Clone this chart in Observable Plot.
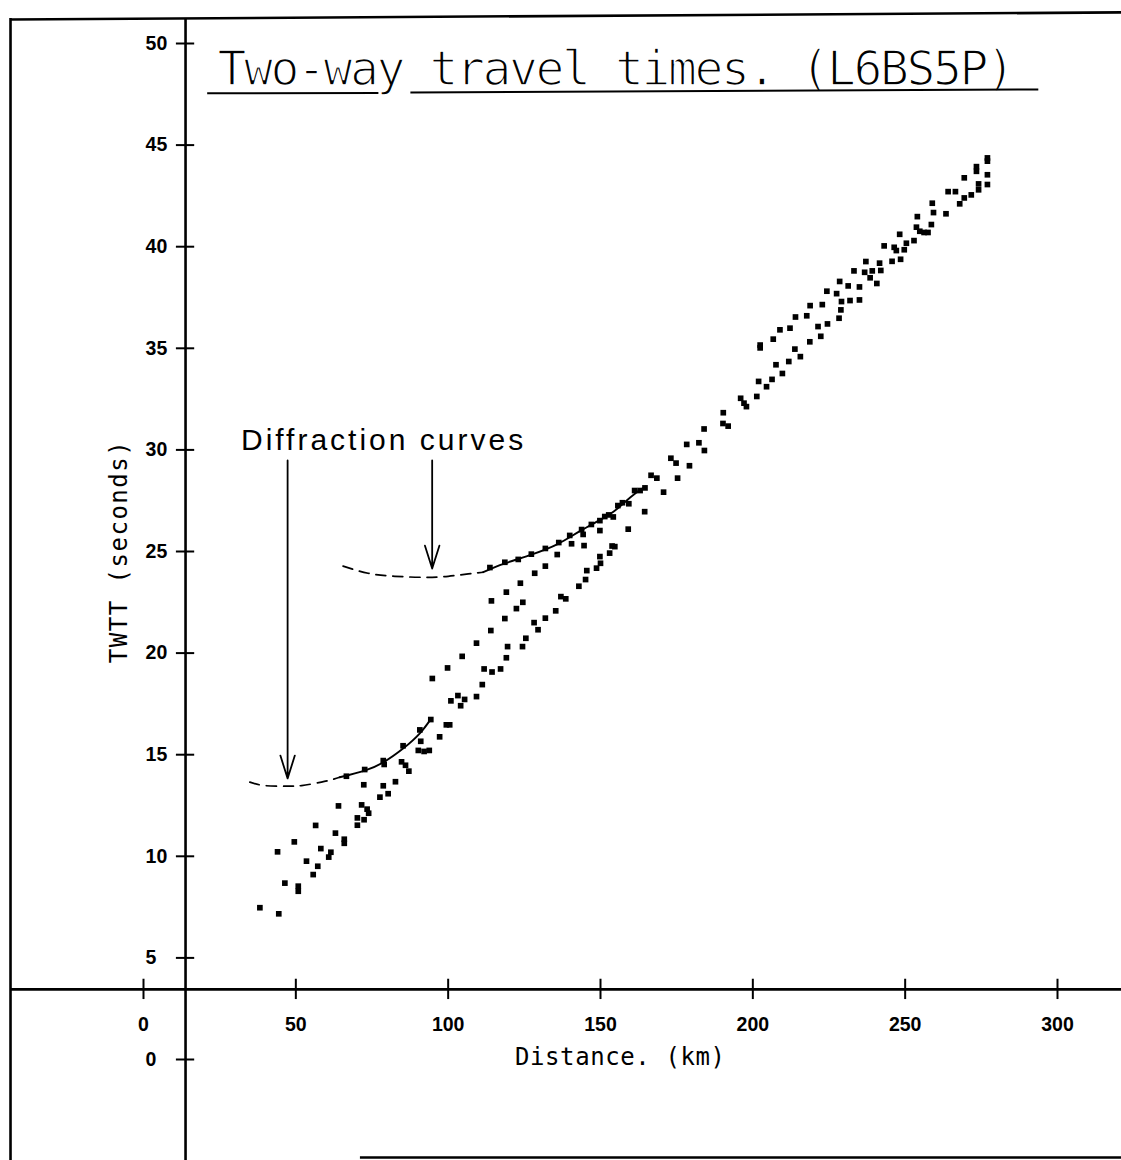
<!DOCTYPE html>
<html>
<head>
<meta charset="utf-8">
<script src="https://cdn.jsdelivr.net/npm/d3@7"></script>
<script src="https://cdn.jsdelivr.net/npm/@observablehq/plot@0.6"></script>
<style>
html, body { margin: 0; padding: 0; background: #fff; }
#chart svg { display: block; }
</style>
</head>
<body>
<div id="chart"></div>
<script>
// ---- Data ----
// Distance (km) of each travel-time pick
const distance = [
  38.2,44.4,44.0,46.4,49.5,50.8,50.8,53.5,55.7,56.5,
  57.2,58.2,60.8,61.5,63.0,64.0,65.9,65.9,66.6,70.2,
  70.2,71.6,72.3,72.4,72.6,73.4,73.9,77.6,78.7,79.0,
  78.7,80.3,82.7,84.7,85.2,86.0,87.1,90.2,90.7,91.0,
  92.1,93.8,94.3,94.8,97.2,99.4,100.5,99.8,100.9,103.2,
  104.1,104.6,105.4,109.3,109.3,111.2,111.8,114.0,114.4,117.2,
  114.2,113.7,118.6,118.6,119.1,119.1,119.5,122.4,123.0,123.7,
  124.5,124.4,125.5,127.3,128.2,128.4,129.5,131.9,131.9,131.9,
  135.3,135.8,136.3,137.0,138.6,139.9,140.5,142.9,145.1,145.5,
  143.8,144.3,144.6,147.0,148.7,149.8,149.8,149.8,150.0,151.4,
  152.7,153.0,153.8,154.2,154.7,155.7,157.2,159.3,159.1,161.2,
  163.0,164.6,164.5,166.6,168.5,170.7,173.1,174.8,175.3,178.3,
  179.2,182.3,184.0,184.1,190.3,190.2,191.9,196.0,197.1,197.9,
  201.3,201.9,202.4,202.4,204.5,206.3,206.7,207.6,208.9,209.7,
  211.8,212.2,213.8,214.0,215.6,217.7,218.7,218.8,221.4,222.3,
  222.8,224.3,224.5,227.5,228.3,228.5,228.9,229.1,231.3,231.9,
  233.2,235.0,235.0,236.7,237.1,238.5,239.2,240.7,241.6,242.0,
  243.1,245.7,246.4,247.1,248.2,248.5,249.7,250.4,252.9,253.7,
  254.0,254.8,256.2,257.5,258.6,258.9,259.3,263.4,264.1,266.5,
  267.9,269.4,269.4,271.7,273.4,273.4,274.1,274.1,277.0,277.0,277.0,277.0
];
// Two-way travel time (s) of each pick
const twtt = [
  7.47,7.17,10.22,8.68,10.71,8.53,8.28,9.76,9.10,11.52,
  9.51,10.38,9.96,10.20,11.14,12.48,10.84,10.64,13.94,11.89,
  11.53,12.53,13.52,11.80,14.27,12.32,12.12,12.91,14.71,14.52,
  13.47,13.08,13.67,14.65,15.44,14.48,14.19,15.21,16.22,15.66,
  15.16,15.21,16.73,18.75,15.88,16.47,16.47,19.27,17.65,17.91,
  17.41,19.84,17.72,20.49,17.86,18.45,19.22,21.11,19.07,19.22,
  22.57,24.21,24.47,21.70,23.00,19.77,20.32,22.19,24.61,23.44,
  22.50,20.32,20.73,24.87,21.50,23.93,21.15,25.15,24.28,21.72,
  22.08,24.85,25.44,22.78,22.67,25.79,25.38,23.29,23.62,24.06,
  26.08,25.84,25.29,26.33,24.18,26.52,26.03,24.75,24.42,26.72,
  26.80,24.92,25.27,26.70,25.24,27.26,27.40,27.35,26.10,28.00,
  28.00,28.13,26.96,28.75,28.61,27.92,29.59,29.35,28.61,30.27,
  29.22,30.35,31.03,29.97,31.83,31.30,31.17,32.54,32.30,32.13,
  32.63,33.37,35.16,35.02,33.11,33.47,35.45,34.19,35.91,33.76,
  34.35,35.99,34.96,36.54,34.59,36.60,35.32,37.10,36.07,35.59,
  37.15,37.81,36.20,37.69,36.48,38.29,36.89,37.30,38.07,37.35,
  38.81,38.02,37.38,38.74,39.27,38.47,38.81,38.19,39.19,38.83,
  40.04,39.28,39.97,39.81,40.61,39.38,39.85,40.17,40.30,40.96,
  41.48,40.76,40.70,40.70,41.09,42.14,41.68,41.62,42.71,42.71,
  42.11,43.39,42.40,42.55,43.94,43.71,43.09,42.80,44.37,44.21,43.54,43.06
];

// Diffraction curves (upper and lower), dashed and solid parts
const upperDashDist = [65.5,73.7,82.5,92.3,100.0,106.6,111.5];
const upperDashTime = [24.28,23.93,23.78,23.73,23.78,23.90,23.98];
const upperSolidDist = [111.5,118.4,127.3,136.1,143.8,152.7,157.4,161.8,164.8];
const upperSolidTime = [23.98,24.40,24.85,25.38,26.05,26.80,27.35,27.90,28.20];
const lowerDashDist = [34.9,39.8,46.9,51.9,58.4,62.3,64.4];
const lowerDashTime = [13.65,13.48,13.45,13.48,13.65,13.79,13.89];
const lowerSolidDist = [64.4,72.6,78.7,85.2,90.7,94.3];
const lowerSolidTime = [13.89,14.22,14.62,15.30,16.05,16.75];

// Axis ticks and texts
const xTicks = [0,50,100,150,200,250,300];
const yTicks = [0,5,10,15,20,25,30,35,40,45,50];
const titleText = "Two-way travel times. (L6BS5P)";
const xLabel = "Distance. (km)";
const yLabel = "TWTT (seconds)";
const noteText = "Diffraction curves";

// ---- Build tables ----
const points = distance.map((d, i) => ({distance: d, twtt: twtt[i]}));
const zip = (xs, ys) => xs.map((d, i) => ({distance: d, twtt: ys[i]}));
const upperDash = zip(upperDashDist, upperDashTime);
const upperSolid = zip(upperSolidDist, upperSolidTime);
const lowerDash = zip(lowerDashDist, lowerDashTime);
const lowerSolid = zip(lowerSolidDist, lowerSolidTime);

// Where the two drawn axes cross (in data units)
const axisDist = 13.8;
const axisTime = 3.45;

const plotterFont = "'DejaVu Sans Mono', 'Liberation Mono', monospace";
const tickFont = "'Liberation Sans', Arial, Helvetica, sans-serif";

const chart = Plot.plot({
  width: 1121,
  height: 1160,
  marginLeft: 10,
  marginRight: 0,
  marginTop: 18,
  marginBottom: 0,
  style: {background: "white", color: "black", overflow: "visible"},
  x: {domain: [0, 300], range: [143, 1057], axis: null},
  y: {domain: [0, 50], range: [1059, 43], axis: null},
  marks: [
    // scanned page border (top, left, partial bottom)
    Plot.link([0], {x1: -43.65, y1: 51.18, x2: 321, y2: 51.53, stroke: "black", strokeWidth: 2.6}),
    Plot.ruleX([-43.65], {stroke: "black", strokeWidth: 2.6}),
    Plot.ruleY([-4.82], {x1: 71.2, x2: 321, stroke: "black", strokeWidth: 2.6}),

    // axes lines
    Plot.ruleX([axisDist], {stroke: "black", strokeWidth: 2.6}),
    Plot.ruleY([axisTime], {stroke: "black", strokeWidth: 2.6}),

    // tick marks crossing the axes
    Plot.ruleY(yTicks, {y: d => d, x1: axisDist - 3, x2: axisDist + 3, stroke: "black", strokeWidth: 2}),
    Plot.ruleX(xTicks, {x: d => d, y1: axisTime - 0.5, y2: axisTime + 0.5, stroke: "black", strokeWidth: 2}),

    // tick labels
    Plot.text(yTicks, {x: axisDist, y: d => d, text: d => String(d), dx: -40, textAnchor: "start",
      fontSize: 19.5, fontWeight: "bold", fontFamily: tickFont, fill: "black"}),
    Plot.text(xTicks, {x: d => d, y: axisTime, text: d => String(d), dy: 35,
      fontSize: 19.5, fontWeight: "bold", fontFamily: tickFont, fill: "black"}),

    // axis titles
    Plot.text([xLabel], {x: 156.5, y: 0.1, text: d => d, fontSize: 24, fontFamily: plotterFont, fill: "black"}),
    Plot.text([yLabel], {x: -7.9, y: 25.0, text: d => d, rotate: -90, fontSize: 24, fontFamily: plotterFont,
      fill: "black"}),

    // title with broken underline
    Plot.text([titleText], {x: 24.3, y: 47.98, text: d => d, textAnchor: "start", lineAnchor: "bottom",
      fontSize: 48, fontFamily: plotterFont, fill: "black"}),
    Plot.link([0], {x1: 20.9, y1: 47.55, x2: 77.1, y2: 47.57, stroke: "black", strokeWidth: 2}),
    Plot.link([0], {x1: 87.6, y1: 47.59, x2: 293.7, y2: 47.74, stroke: "black", strokeWidth: 2}),

    // diffraction curves
    Plot.line(upperDash, {x: "distance", y: "twtt", curve: "natural", stroke: "black",
      strokeWidth: 1.7, strokeDasharray: "10,7"}),
    Plot.line(upperSolid, {x: "distance", y: "twtt", curve: "natural", stroke: "black", strokeWidth: 1.9}),
    Plot.line(lowerDash, {x: "distance", y: "twtt", curve: "natural", stroke: "black",
      strokeWidth: 1.7, strokeDasharray: "10,7"}),
    Plot.line(lowerSolid, {x: "distance", y: "twtt", curve: "natural", stroke: "black", strokeWidth: 1.9}),

    // annotation
    Plot.text([noteText], {x: 78.8, y: 30.46, text: d => d, fontSize: 30, fontFamily: tickFont, fill: "black"}),
    Plot.arrow([0], {x1: 47.3, y1: 29.48, x2: 47.3, y2: 13.83, headLength: 20, headAngle: 35,
      stroke: "black", strokeWidth: 1.8}),
    Plot.arrow([0], {x1: 94.75, y1: 29.48, x2: 94.75, y2: 24.16, headLength: 20, headAngle: 35,
      stroke: "black", strokeWidth: 1.8}),

    // travel-time picks
    Plot.dot(points, {x: "distance", y: "twtt", symbol: "square", r: 3.2, fill: "black", stroke: "none"})
  ]
});

// plotter-style lettering: spacing (select texts by their content)
const svg = d3.select(chart);
const byText = s => svg.selectAll("text").filter(function () { return this.textContent === s; });
byText(titleText).attr("letter-spacing", "-2.4px")
  .attr("stroke", "white").attr("stroke-width", 1.6).attr("paint-order", "normal");
byText(xLabel).attr("letter-spacing", "0.6px");
byText(yLabel).attr("letter-spacing", "1.5px");
byText(noteText).attr("letter-spacing", "3.0px");

document.getElementById("chart").appendChild(chart);
</script>
</body>
</html>
